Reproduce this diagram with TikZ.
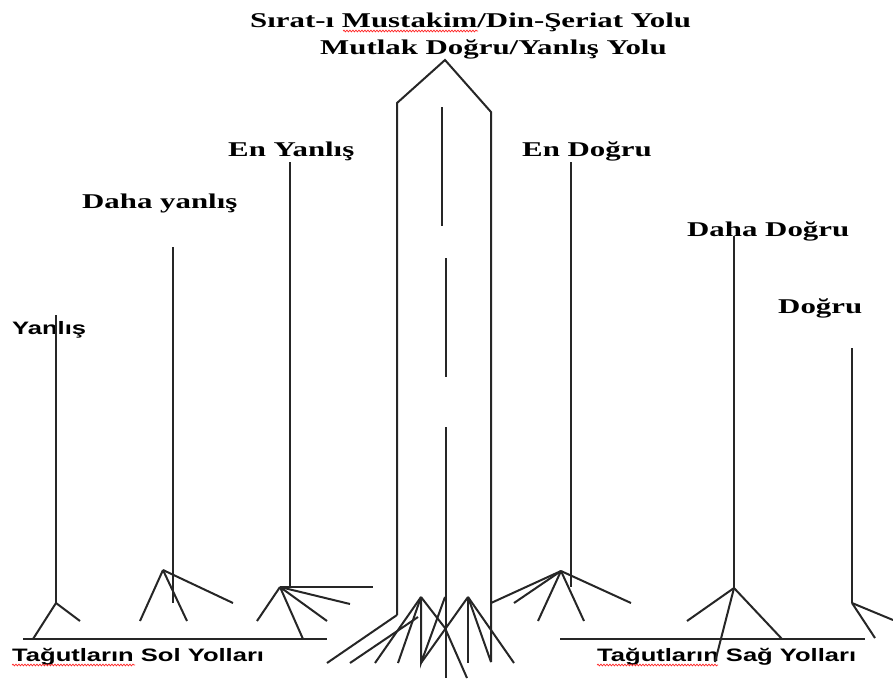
\documentclass[tikz,border=0pt]{standalone}
\usepackage{fontspec}
\newfontfamily\yolserif[FakeStretch=1.47]{Liberation Serif}
\newfontfamily\yolsans[FakeStretch=1.42]{Liberation Sans}
\usetikzlibrary{decorations.pathmorphing}
\tikzset{
  yol/.style={line width=2pt, black!85},
  baslik/.style={anchor=base west, inner sep=0pt, font=\yolserif\bfseries\fontsize{21}{24}\selectfont},
  altbaslik/.style={anchor=base west, inner sep=0pt, font=\yolsans\bfseries\fontsize{18}{21}\selectfont},
  imla/.style={red!85, line width=0.7pt, decorate, decoration={snake, amplitude=0.9pt, segment length=3pt}}
}
\begin{document}
\begin{tikzpicture}[x=1pt, y=-1pt]
\useasboundingbox (0,0) rectangle (893,678);
% basliklar
\node[baslik] (sirat) at (250,27) {Sırat-ı Mustakim/Din-Şeriat Yolu};
\node[baslik] (mutlak) at (320,54) {Mutlak Doğru/Yanlış Yolu};
\node[baslik] (enyanlis) at (228,156) {En Yanlış};
\node[baslik] (dahayanlis) at (82,208) {Daha yanlış};
\node[altbaslik] (yanlis) at (12,334) {Yanlış};
\node[baslik] (endogru) at (522,156) {En Doğru};
\node[baslik] (dahadogru) at (687,236) {Daha Doğru};
\node[baslik] (dogru) at (778,313) {Doğru};
\node[altbaslik] (solyol) at (12,661) {Tağutların Sol Yolları};
\node[altbaslik] (sagyol) at (597,661) {Tağutların Sağ Yolları};
\draw[imla] (343,31) -- (478,31);
\draw[imla] (12,665) -- (135,665);
\draw[imla] (597,665) -- (718,665);
% orta yol
\draw[yol] (397,615) -- (397,103) -- (445,60) -- (491,112) -- (491,662);
\draw[yol] (442,107) -- (442,226);
\draw[yol] (446,258) -- (446,377);
\draw[yol] (446,427) -- (446,678);
\draw[yol] (397,615) -- (327,663);
\draw[yol] (418,617) -- (350,663);
\foreach \x/\y in {375/663, 398/663} \draw[yol] (421,597) -- (\x,\y);
\draw[yol] (421,597) -- (421,663) -- (445,597);
\draw[yol] (421,597) -- (445,628) -- (467,678);
\foreach \x/\y in {421/663, 468/663, 491/662, 514/663} \draw[yol] (468,597) -- (\x,\y);
% sol yollar
\coordinate (k1) at (56,603);
\draw[yol] (56,315) -- (k1);
\foreach \x/\y in {33/639, 80/621} \draw[yol] (k1) -- (\x,\y);
\coordinate (k2) at (163,570);
\draw[yol] (173,247) -- (173,603);
\foreach \x/\y in {140/621, 187/621, 233/603} \draw[yol] (k2) -- (\x,\y);
\coordinate (k3) at (280,587);
\draw[yol] (290,162) -- (290,587);
\foreach \x/\y in {373/587, 257/621, 303/639, 327/621, 350/604} \draw[yol] (k3) -- (\x,\y);
\draw[yol] (23,639) -- (327,639);
% sag yollar
\coordinate (k4) at (561,571);
\draw[yol] (571,162) -- (571,587);
\foreach \x/\y in {491/603, 514/603, 538/621, 584/621, 631/603} \draw[yol] (k4) -- (\x,\y);
\coordinate (k5) at (734,588);
\draw[yol] (734,236) -- (k5);
\foreach \x/\y in {687/621, 782/639, 715/662} \draw[yol] (k5) -- (\x,\y);
\coordinate (k6) at (852,603);
\draw[yol] (852,348) -- (k6);
\foreach \x/\y in {875/638, 893/620} \draw[yol] (k6) -- (\x,\y);
\draw[yol] (560,639) -- (865,639);
\end{tikzpicture}
\end{document}
